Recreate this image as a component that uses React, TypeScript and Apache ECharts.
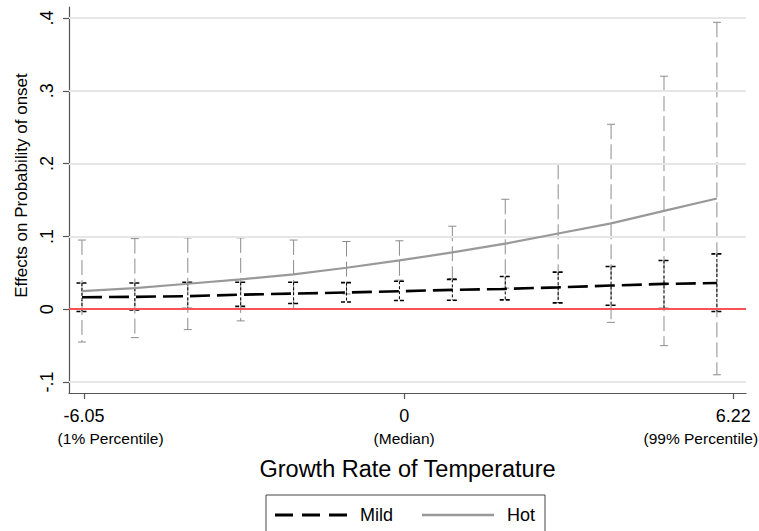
import { useEffect, useRef } from "react";
import * as echarts from "echarts";

// ---- data ----
const xValues = [-6.09, -5.09, -4.09, -3.09, -2.09, -1.09, -0.09, 0.91, 1.91, 2.91, 3.91, 4.91, 5.91];

const mildMean = [0.0165, 0.017, 0.018, 0.02, 0.0215, 0.023, 0.0247, 0.0266, 0.028, 0.03, 0.0325, 0.0348, 0.036];
const mildUpper = [0.036, 0.036, 0.037, 0.037, 0.037, 0.0366, 0.0385, 0.041, 0.045, 0.051, 0.0586, 0.067, 0.076];
const mildLower = [-0.003, -0.001, 0.001, 0.004, 0.0078, 0.01, 0.012, 0.0124, 0.0128, 0.0087, 0.0055, 0.001, -0.003];

const hotMean = [0.025, 0.029, 0.035, 0.041, 0.048, 0.057, 0.067, 0.078, 0.09, 0.104, 0.118, 0.135, 0.152];
const hotUpper = [0.095, 0.097, 0.098, 0.098, 0.095, 0.093, 0.094, 0.114, 0.151, 0.199, 0.254, 0.32, 0.394];
const hotLower = [-0.045, -0.039, -0.028, -0.016, 0.001, 0.021, 0.04, 0.042, 0.029, 0.009, -0.018, -0.05, -0.09];

const xTickValues = [-6.05, 0, 6.22];
const xTickLabels = ["-6.05", "0", "6.22"];
const xTickNotes = ["(1% Percentile)", "(Median)", "(99% Percentile)"];
const yTickValues = [-0.1, 0, 0.1, 0.2, 0.3, 0.4];
const yTickLabels = ["-.1", "0", ".1", ".2", ".3", ".4"];
const seriesNames = ["Mild", "Hot"];

const FONT = "'Liberation Sans', Arial, sans-serif";

function ciSeries(
  name: string,
  lo: number[],
  hi: number[],
  color: string,
  dash: number[],
  capDash: number[] | null,
  capHalf: number,
  width: number,
  capWidth: number,
  z: number
) {
  return {
    type: "custom",
    name,
    z,
    silent: true,
    data: xValues.map((x, i) => [x, lo[i], hi[i]]),
    encode: { x: 0, y: [1, 2] },
    renderItem: (_params: any, api: any) => {
      const x = api.value(0);
      const top = api.coord([x, api.value(2)]);
      const bot = api.coord([x, api.value(1)]);
      const style = { stroke: color, lineWidth: width, lineDash: dash, fill: null };
      const capStyle = { stroke: color, lineWidth: capWidth, lineDash: capDash, fill: null };
      return {
        type: "group",
        children: [
          { type: "line", shape: { x1: top[0], y1: top[1], x2: bot[0], y2: bot[1] }, style },
          { type: "line", shape: { x1: top[0] - capHalf, y1: top[1], x2: top[0] + capHalf, y2: top[1] }, style: capStyle },
          { type: "line", shape: { x1: bot[0] - capHalf, y1: bot[1], x2: bot[0] + capHalf, y2: bot[1] }, style: capStyle },
        ],
      };
    },
  };
}

export default function App() {
  const ref = useRef<HTMLDivElement>(null);

  useEffect(() => {
    if (!ref.current) return;
    const chart = echarts.init(ref.current, null, { renderer: "svg" });

    const nearest = (arr: number[], v: number) => {
      let idx = 0;
      let best = Infinity;
      arr.forEach((t, i) => {
        const d = Math.abs(t - v);
        if (d < best) {
          best = d;
          idx = i;
        }
      });
      return idx;
    };
    const xLabelFor = (v: number) => {
      const idx = nearest(xTickValues, v);
      return `{a|${xTickLabels[idx]}}\n{b${idx}|${xTickNotes[idx]}}`;
    };
    const yLabelFor = (v: number) => yTickLabels[nearest(yTickValues, v)];

    const noteStyle = { fontSize: 15.5, lineHeight: 22, color: "#000", fontFamily: FONT };

    const option: any = {
      animation: false,
      backgroundColor: "#fff",
      textStyle: { fontFamily: FONT },
      grid: { left: 69, right: 13, top: 7, bottom: 138, containLabel: false, outerBoundsMode: "none" },
      legend: {
        data: [
          { name: seriesNames[0], icon: "path://M0,0H18V3H0Z M27,0H45V3H27Z M54,0H72V3H54Z" },
          { name: seriesNames[1], icon: "path://M0,0.35H72V2.65H0Z M0,0H0.01V3H0Z" },
        ],
        left: 266,
        top: 495,
        orient: "horizontal",
        itemWidth: 72,
        itemHeight: 3,
        itemGap: 29,
        padding: [10, 10, 10, 9],
        borderColor: "#444",
        borderWidth: 1,
        selectedMode: false,
        textStyle: { fontSize: 18, lineHeight: 20, color: "#000", fontFamily: FONT, padding: [0, 0, 0, 8] },
      },
      xAxis: {
        type: "value",
        min: -6.335,
        max: 6.46,
        name: "Growth Rate of Temperature",
        nameLocation: "middle",
        nameGap: 64,
        nameTextStyle: { fontSize: 23.5, color: "#000", fontFamily: FONT },
        axisLine: { show: true, onZero: false, lineStyle: { color: "#555", width: 1.2 } },
        axisTick: { show: true, length: 6, customValues: xTickValues, lineStyle: { color: "#555", width: 1.2 } },
        axisLabel: {
          customValues: xTickValues,
          margin: 12,
          formatter: xLabelFor,
          rich: {
            a: { fontSize: 18, lineHeight: 22, color: "#000", fontFamily: FONT },
            b0: { ...noteStyle, padding: [0, 0, 0, 53] },
            b1: { ...noteStyle },
            b2: { ...noteStyle, padding: [0, 65, 0, 0] },
          },
        },
        splitLine: { show: false },
      },
      yAxis: {
        type: "value",
        min: -0.115,
        max: 0.415,
        name: "Effects on Probability of onset",
        nameLocation: "middle",
        nameGap: 36,
        nameTextStyle: { fontSize: 17, color: "#000", fontFamily: FONT, padding: [0, 0, 0, 29] },
        axisLine: { show: true, onZero: false, lineStyle: { color: "#555", width: 1.2 } },
        axisTick: { show: true, length: 6, customValues: yTickValues, lineStyle: { color: "#555", width: 1.2 } },
        axisLabel: {
          customValues: yTickValues,
          rotate: 90,
          margin: 13,
          fontSize: 18,
          color: "#000",
          fontFamily: FONT,
          formatter: yLabelFor,
        },
        splitLine: { show: false },
      },
      series: [
        {
          type: "line",
          name: "grid",
          data: [],
          silent: true,
          z: 1,
          markLine: {
            silent: true,
            symbol: ["none", "none"],
            label: { show: false },
            animation: false,
            data: [
              ...yTickValues.map((v) => ({ yAxis: v, lineStyle: { color: "#e6e6e6", width: 2, type: "solid" } })),
              { yAxis: 0, lineStyle: { color: "#ff2020", width: 1.6, type: "solid" } },
            ],
          },
        },
        ciSeries("Hot CI", hotLower, hotUpper, "#8c8c8c", [15, 5], null, 4, 1, 1, 3),
        ciSeries("Mild CI", mildLower, mildUpper, "#000", [3, 2], [4, 2], 5.5, 1, 1.6, 4),
        {
          type: "line",
          name: seriesNames[1],
          data: xValues.map((x, i) => [x, hotMean[i]]),
          symbol: "none",
          z: 5,
          lineStyle: { color: "#999", width: 2.2, type: "solid" },
          itemStyle: { color: "#999" },
        },
        {
          type: "line",
          name: seriesNames[0],
          data: xValues.map((x, i) => [x, mildMean[i]]),
          symbol: "none",
          z: 6,
          lineStyle: { color: "#000", width: 2.6, type: [20, 7] },
          itemStyle: { color: "#000" },
        },
      ],
    };

    chart.setOption(option);
    return () => chart.dispose();
  }, []);

  return <div ref={ref} style={{ width: 759, height: 531, position: "absolute", left: 0, top: 0 }} />;
}
